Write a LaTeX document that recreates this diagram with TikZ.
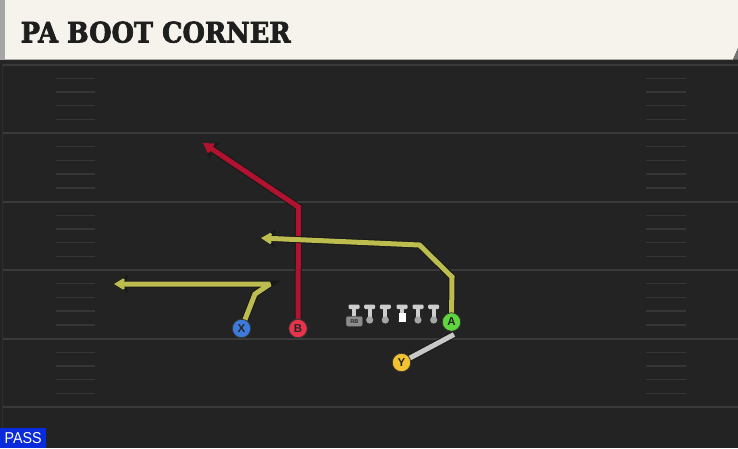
\documentclass[tikz,border=0pt]{standalone}
\usepackage{fontspec}
\setmainfont{Liberation Sans}
\newfontfamily\titlefont{DejaVu Serif}[BoldFeatures={FakeBold=2.5}]
\usetikzlibrary{arrows.meta}
\definecolor{fieldc}{HTML}{232323}
\definecolor{yardc}{HTML}{3A3A3A}
\definecolor{hashc}{HTML}{363636}
\definecolor{creamc}{HTML}{F5F3EC}
\definecolor{titlec}{HTML}{1E1E1E}
\definecolor{redr}{HTML}{B0122F}
\definecolor{yelr}{HTML}{BDBD4F}
\definecolor{blockc}{HTML}{C8C8C8}
\definecolor{xblue}{HTML}{3C7BDC}
\definecolor{bred}{HTML}{E8344A}
\definecolor{agreen}{HTML}{5FD63E}
\definecolor{yyel}{HTML}{F2C230}
\definecolor{passc}{HTML}{0A2BDB}
\definecolor{linec}{HTML}{CDCDCD}
\definecolor{linedk}{HTML}{A5A5A5}
\definecolor{edgec}{HTML}{2E2E2E}
\tikzset{
  yard/.style={draw=yardc, line width=2pt},
  hashm/.style={draw=hashc, line width=1.4pt},
  route/.style={draw=#1, line width=5pt, line join=miter, miter limit=2,
    preaction={draw=black!90, line width=7pt, -{Stealth[length=14.5pt,width=18pt,inset=4pt]}},
    -{Stealth[length=12pt,width=14.5pt,inset=3pt]}},
  blockr/.style={draw=blockc, line width=5pt, line cap=butt,
    preaction={draw=black!90, line width=7pt}},
  player/.style={circle, minimum size=18.5pt, inner sep=0pt, draw=black!80, line width=0.8pt,
    font=\bfseries\fontsize{11.5}{11.5}\selectfont, text=black!85},
}
\begin{document}
\begin{tikzpicture}[x=1pt,y=-1pt]
\useasboundingbox (0,0) rectangle (738,448);
\fill[fieldc] (0,0) rectangle (738,448);
% title bar
\fill[black!85] (0,59) rectangle (738,64);
\fill[creamc] (5,0) -- (738,0) -- (738,48) -- (733,59.5) -- (5,59.5) -- cycle;
\fill[black!35] (0,0) rectangle (5,59.5);
\fill[black!55] (733,59.5) -- (738,48) -- (738,59.5) -- cycle;
\node[anchor=west, inner sep=0pt, text=titlec] (title) at (20.5,32.2)
  {\resizebox{270pt}{21pt}{\titlefont\bfseries PA BOOT CORNER}};
% yard lines and hash marks
\foreach \yy in {64.5,133,201.5,270,338.5,407}
  \draw[yard] (2,\yy) -- (738,\yy);
\foreach \yy in {64.5,133,201.5,270,338.5}
  \foreach \k in {1,...,4} {
    \draw[hashm] (56,{\yy+\k*13.7}) -- (95,{\yy+\k*13.7});
    \draw[hashm] (646,{\yy+\k*13.7}) -- (686,{\yy+\k*13.7});
  }
\draw[draw=edgec, line width=1pt] (2,64) -- (2,448);
% positions
\coordinate (pX) at (241.5,328.5);
\coordinate (pB) at (298,328.5);
\coordinate (pA) at (451.5,322);
\coordinate (pY) at (401.5,362.5);
\coordinate (x1) at (255,294);
\coordinate (x2) at (270,284);
\coordinate (x3) at (114,284);
\coordinate (b1) at (298.5,207);
\coordinate (b2) at (203,143);
\coordinate (a1) at (452,277);
\coordinate (a2) at (419.5,245);
\coordinate (a3) at (261,238);
\coordinate (y1) at (454,334.5);
% routes
\draw[route=yelr] (pX) -- (x1) -- (x2) -- (x3);
\draw[route=redr] (pB) -- (b1) -- (b2);
\draw[route=yelr] (pA) -- (a1) -- (a2) -- (a3);
\draw[blockr] (pY) -- (y1);
% offensive line
\foreach \xx in {354,369.7,385.3,418,433.7} {
  \fill[linec, rounded corners=1.2pt] (\xx-5.5,304.5) rectangle (\xx+5.5,309);
  \fill[linec] (\xx-2,308) rectangle (\xx+2,318);
  \fill[linedk] (\xx,320) circle (3.6);
}
\fill[linec, rounded corners=1.2pt] (396.5,304.5) rectangle (407.5,309);
\fill[linec] (400,308) rectangle (404,313);
\fill[linedk] (398.5,321.5) arc[start angle=180, end angle=360, radius=3.5] -- cycle;
\fill[white] (398.5,312.5) rectangle (405.5,321.5);
\node[fill=black!45, draw=black!70, line width=0.4pt, rounded corners=2pt, minimum width=16.5pt, minimum height=10pt,
  inner sep=0pt, font=\bfseries\fontsize{5.5}{5.5}\selectfont, text=black!85] (RB) at (354.3,321.3) {RB};
% players
\node[player, fill=xblue] (X) at (pX) {X};
\node[player, fill=bred] (B) at (pB) {B};
\node[player, fill=agreen] (A) at (pA) {A};
\node[player, fill=yyel] (Y) at (pY) {Y};
% pass tag
\node[fill=passc, text=white, anchor=south west, minimum width=46pt, minimum height=20pt, inner sep=0pt] (pass) at (0,448)
  {\resizebox{37pt}{11pt}{PASS}};
\end{tikzpicture}
\end{document}
